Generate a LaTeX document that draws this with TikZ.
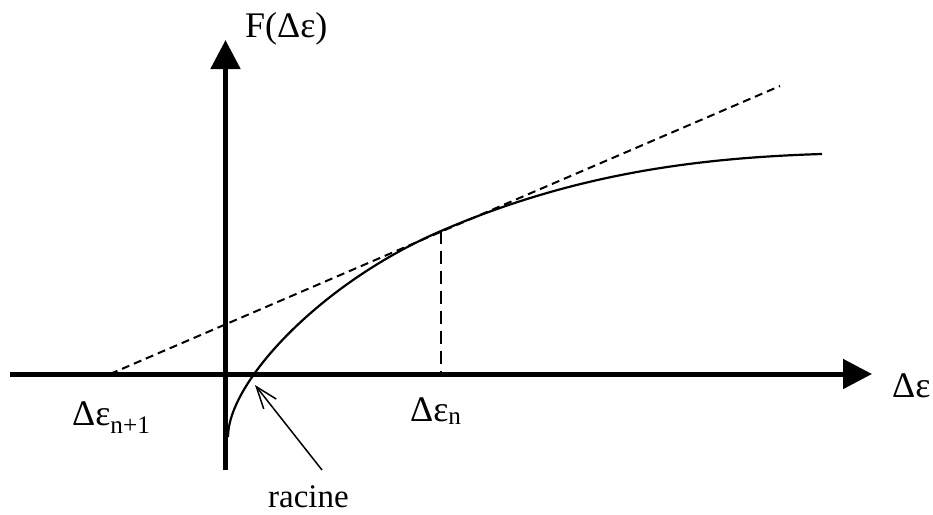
\documentclass[tikz,border=0pt]{standalone}
\usepackage{fontspec}
\setmainfont{Liberation Serif}
\usetikzlibrary{arrows.meta}
\begin{document}
\begin{tikzpicture}[x=1pt,y=-1pt,
  axis/.style={line width=5pt,-{Triangle[length=29pt,width=29pt]}},
  curve/.style={line width=2.2pt},
  tangent/.style={line width=2pt,dash pattern=on 8pt off 5pt},
  guide/.style={line width=1.6pt,dash pattern=on 13pt off 7pt},
  pointer/.style={line width=1.5pt,-{Straight Barb[length=22pt,width=16pt,line width=1.5pt]}},
  lbl/.style={inner sep=0pt,anchor=base west,font=\fontsize{36}{40}\selectfont}]
\useasboundingbox (0,0) rectangle (933,514);
% axes
\coordinate (xs) at (10,374);
\coordinate (xe) at (872,374);
\coordinate (ys) at (225.5,470);
\coordinate (ye) at (225.5,40);
\draw[axis] (xs) -- (xe);
\draw[axis] (ys) -- (ye);
% curve
\coordinate (c0) at (228,437);
\coordinate (cn) at (441,231);
\coordinate (c1) at (822,154);
\draw[curve] (c0) .. controls (228,382) and (321,282.6) .. (cn)
  .. controls (571,175) and (692,158) .. (c1);
% tangent
\coordinate (t0) at (110,374);
\coordinate (t1) at (780,86);
\draw[tangent] (t0) -- (t1);
% vertical guide
\coordinate (gn) at (441,374);
\draw[guide] (cn) -- (gn);
% labels
\node[lbl] (fy) at (245,37) {F(Δε)};
\node[lbl] (fx) at (892,397) {Δε};
\node[lbl] (en1) at (72,425) {Δε\textsubscript{n+1}};
\node[lbl] (en) at (410,421) {Δε\textsubscript{n}};
\node[lbl,font=\fontsize{33}{38}\selectfont] (rac) at (268,507) {racine};
% pointer
\coordinate (rt) at (322,470);
\coordinate (rh) at (255,385);
\draw[pointer] (rt) -- (rh);
\end{tikzpicture}
\end{document}
